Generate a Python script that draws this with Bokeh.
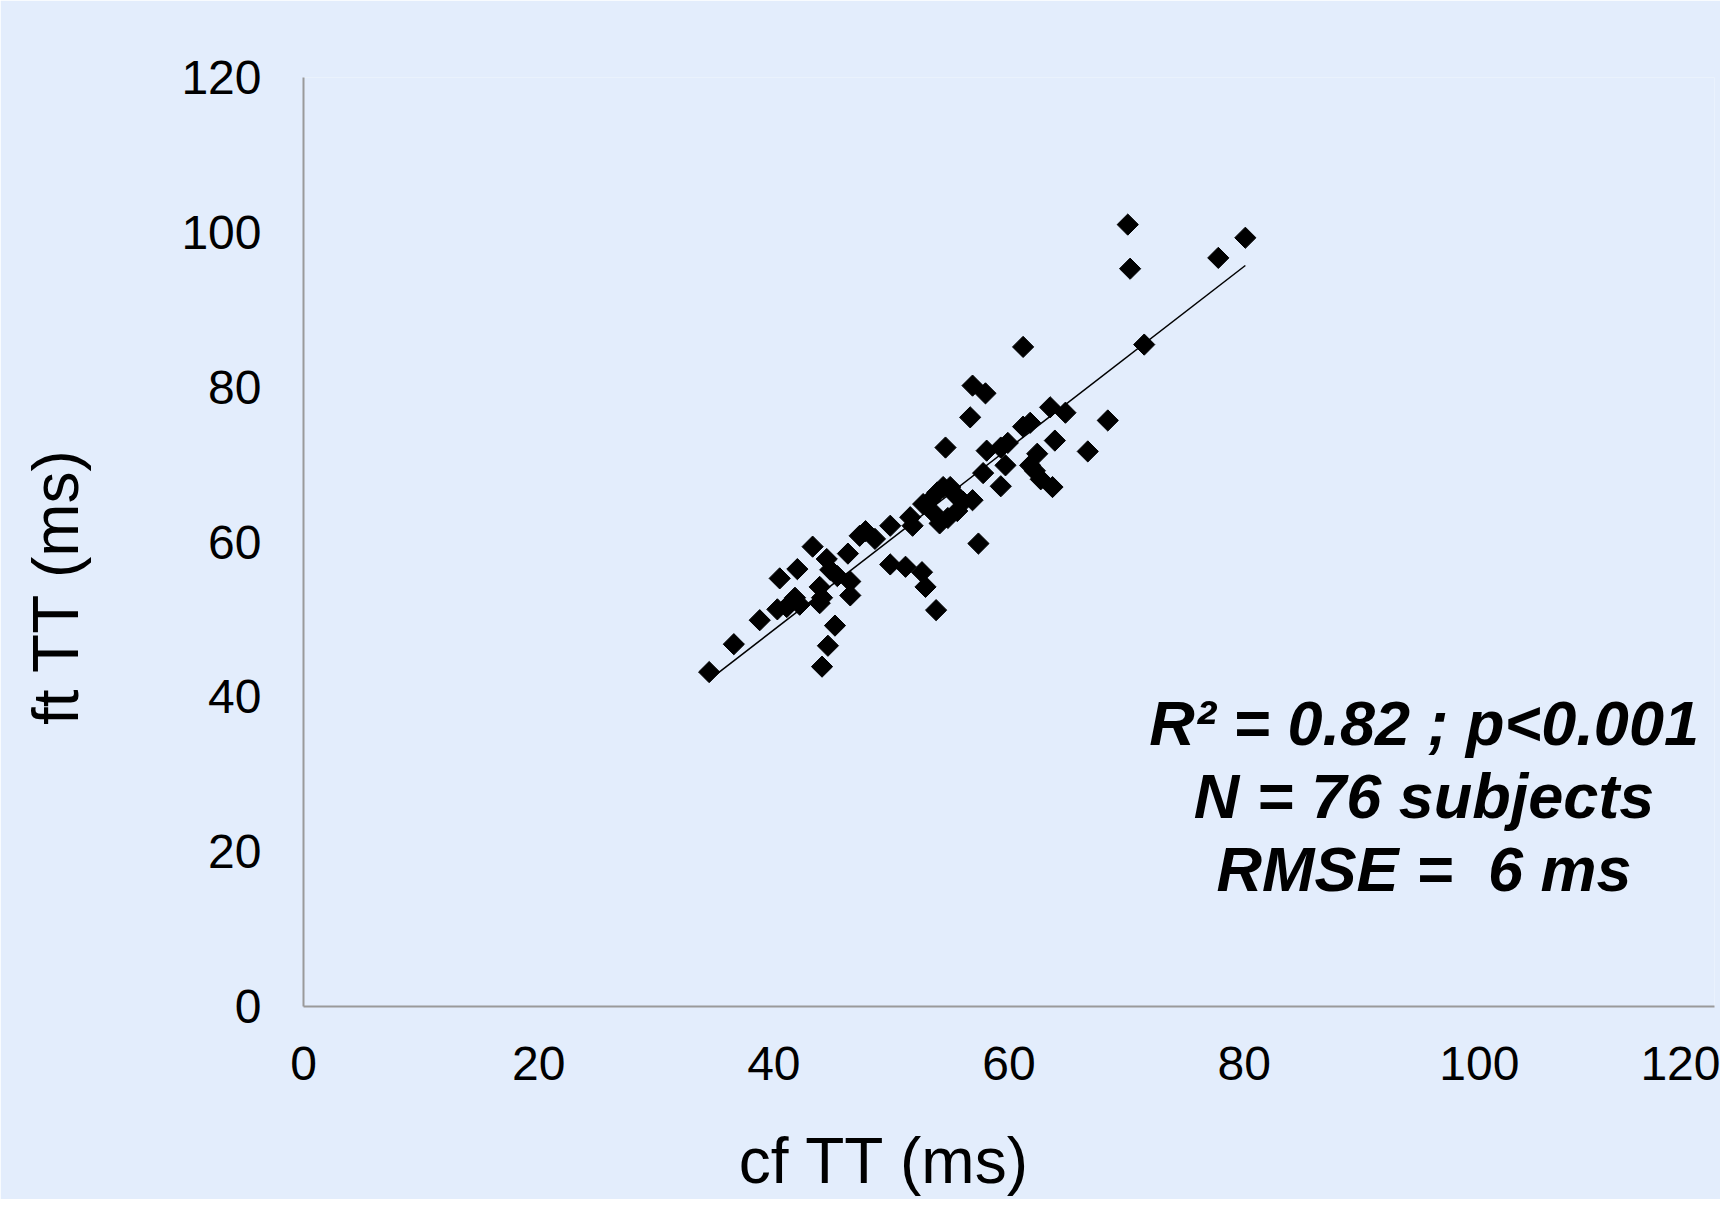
import numpy as np
from bokeh.plotting import figure
from bokeh.models import Range1d, FixedTicker, Label
from bokeh.embed import file_html
from bokeh.resources import INLINE

# cf TT (ms) vs ft TT (ms)
cf_tt = [34.5, 36.6, 38.8, 40.5, 42.0, 43.3, 40.3, 41.1, 41.8, 42.2, 41.4,
         43.9, 44.1, 43.9, 44.5, 44.8, 45.4, 46.3, 46.5, 46.5, 45.2, 44.6,
         44.1, 47.3, 47.8, 48.6, 49.9, 51.6, 51.8, 49.9, 51.2, 52.6, 52.9,
         53.8, 52.7, 53.3, 53.9, 53.5, 54.1, 54.8, 54.4, 55.0, 55.4, 55.8,
         56.1, 56.9, 54.6, 56.7, 56.9, 58.0, 57.4, 57.8, 58.1, 59.3, 59.3,
         59.9, 59.7, 61.2, 61.2, 61.8, 61.8, 62.4, 62.2, 62.7, 63.5, 63.9,
         63.7, 64.8, 66.7, 68.4, 70.1, 70.3, 71.5, 77.8, 80.1, 55.6]
ft_tt = [43.2, 46.8, 49.9, 55.3, 56.5, 59.4, 51.3, 51.6, 52.8, 51.9, 52.1,
         54.2, 52.8, 52.1, 57.8, 56.4, 55.6, 58.5, 54.9, 53.1, 49.2, 46.6,
         43.9, 60.8, 61.4, 60.4, 62.1, 63.2, 62.1, 57.1, 56.8, 56.1, 54.2,
         51.2, 64.9, 65.4, 66.4, 63.9, 62.4, 63.1, 67.1, 67.1, 66.1, 65.6,
         65.2, 65.4, 72.2, 76.1, 80.2, 79.2, 59.8, 68.9, 71.8, 67.2, 72.2,
         72.8, 69.9, 85.2, 74.9, 75.4, 69.9, 71.4, 69.2, 68.1, 77.4, 73.1,
         67.1, 76.7, 71.7, 75.7, 101.0, 95.3, 85.5, 96.7, 99.3, 64.0]

x_ticks = [0, 20, 40, 60, 80, 100, 120]
y_ticks = [0, 20, 40, 60, 80, 100, 120]

stats_lines = ["R\u00b2 = 0.82 ; p<0.001", "N = 76 subjects", "RMSE = \u00a06 ms"]

BG = "#E3EDFC"
FONT = "Liberation Sans"
NB = "\u00a0"

p = figure(width=1720, height=1199, output_backend="svg", toolbar_location=None,
           x_range=Range1d(0, 120), y_range=Range1d(0, 120),
           min_border_left=303, min_border_top=77, min_border_bottom=192,
           min_border_right=6)
p.background_fill_color = BG
p.border_fill_color = BG
p.outline_line_color = None
p.grid.visible = False

for ax in (p.xaxis[0], p.yaxis[0]):
    ax.axis_line_color = "#9A9A9A"
    ax.axis_line_width = 2
    ax.major_tick_line_color = None
    ax.minor_tick_line_color = None
    ax.major_tick_out = 0
    ax.major_tick_in = 0
    ax.major_label_text_font = FONT
    ax.major_label_text_font_size = "48px"
    ax.major_label_text_color = "black"
    ax.axis_label_text_font = FONT
    ax.axis_label_text_font_size = "64px"
    ax.axis_label_text_font_style = "normal"
    ax.axis_label_text_color = "black"

p.xaxis.ticker = FixedTicker(ticks=x_ticks)
p.yaxis.ticker = FixedTicker(ticks=y_ticks)
p.xaxis.axis_label = "cf TT (ms)" + NB * 14
p.yaxis.axis_label = "ft TT (ms)" + NB * 5
p.xaxis.major_label_standoff = 40
p.yaxis.major_label_standoff = 42
p.xaxis.axis_label_standoff = 42
p.yaxis.axis_label_standoff = 86

# trendline (least squares) over the data range
slope, intercept = np.polyfit(cf_tt, ft_tt, 1)
xs = [min(cf_tt), max(cf_tt)]
ys = [slope * v + intercept for v in xs]
p.line(xs, ys, line_color="black", line_width=1.5)

p.scatter(cf_tt, ft_tt, marker="square", size=15, angle=np.pi / 4,
          fill_color="black", line_color="black")

label_y = [36.6, 27.2, 17.8]
for txt, yy in zip(stats_lines, label_y):
    p.add_layout(Label(x=95.3, y=yy, text=txt, text_align="center",
                       text_baseline="middle", text_font=FONT,
                       text_font_size="63px", text_font_style="bold italic",
                       text_color="black"))

open("out.html", "w").write(file_html(p, INLINE))
